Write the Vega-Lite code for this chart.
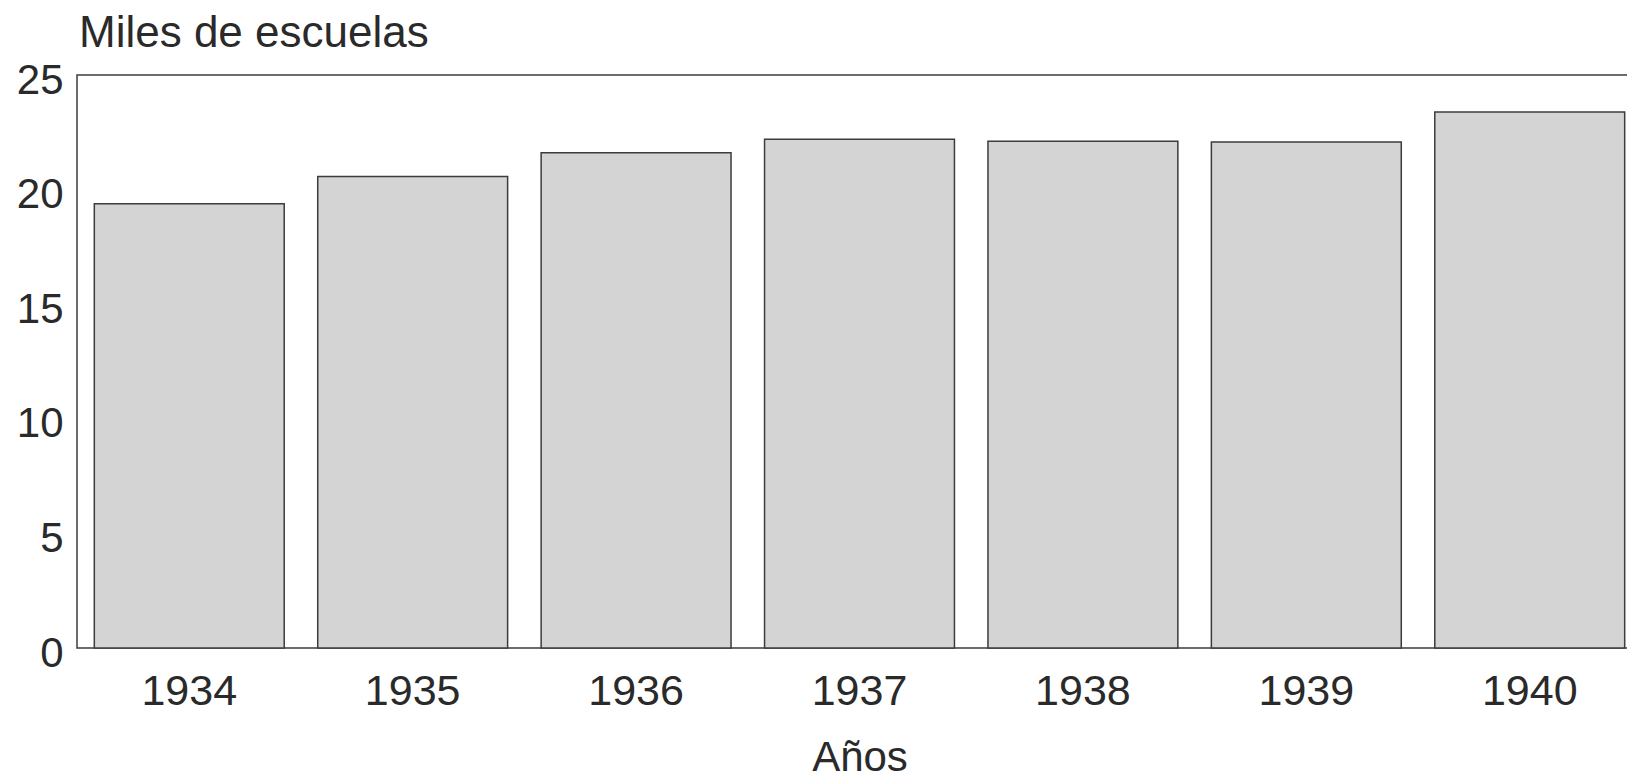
{
  "$schema": "https://vega.github.io/schema/vega-lite/v6.json",
  "autosize": "none",
  "padding": {"left": 77, "top": 75, "right": 0, "bottom": 133},
  "width": 1565,
  "height": 573,
  "background": "white",
  "config": {
    "font": "Liberation Sans",
    "view": {"stroke": "#3c3c3c", "strokeWidth": 1.5}
  },
  "title": {
    "text": "Miles de escuelas",
    "anchor": "start",
    "frame": "group",
    "orient": "top",
    "baseline": "bottom",
    "offset": 4,
    "dy": 45,
    "dx": 2,
    "fontSize": 44,
    "fontWeight": "normal",
    "color": "#2a2a2a"
  },
  "data": {
    "values": [
      {"anio": "1934", "escuelas": 19.38},
      {"anio": "1935", "escuelas": 20.57},
      {"anio": "1936", "escuelas": 21.61},
      {"anio": "1937", "escuelas": 22.2},
      {"anio": "1938", "escuelas": 22.11},
      {"anio": "1939", "escuelas": 22.08},
      {"anio": "1940", "escuelas": 23.39}
    ]
  },
  "mark": {"type": "bar", "fill": "#d4d4d4", "stroke": "#3c3c3c", "strokeWidth": 1.5},
  "encoding": {
    "x": {
      "field": "anio",
      "type": "ordinal",
      "scale": {"paddingInner": 0.15, "paddingOuter": 0.0775},
      "axis": {
        "title": "Años",
        "titleFontSize": 42,
        "titleFontWeight": "normal",
        "titleColor": "#2a2a2a",
        "titlePadding": 24,
        "labelFontSize": 43,
        "labelColor": "#2a2a2a",
        "labelAngle": 0,
        "labelPadding": 22,
        "ticks": false,
        "domain": false
      }
    },
    "y": {
      "field": "escuelas",
      "type": "quantitative",
      "scale": {"domain": [0, 25], "nice": false},
      "axis": {
        "title": null,
        "values": [0, 5, 10, 15, 20, 25],
        "labelFontSize": 42,
        "labelColor": "#2a2a2a",
        "labelPadding": 14,
        "labelOffset": 5,
        "ticks": false,
        "domain": false,
        "grid": false
      }
    }
  }
}
